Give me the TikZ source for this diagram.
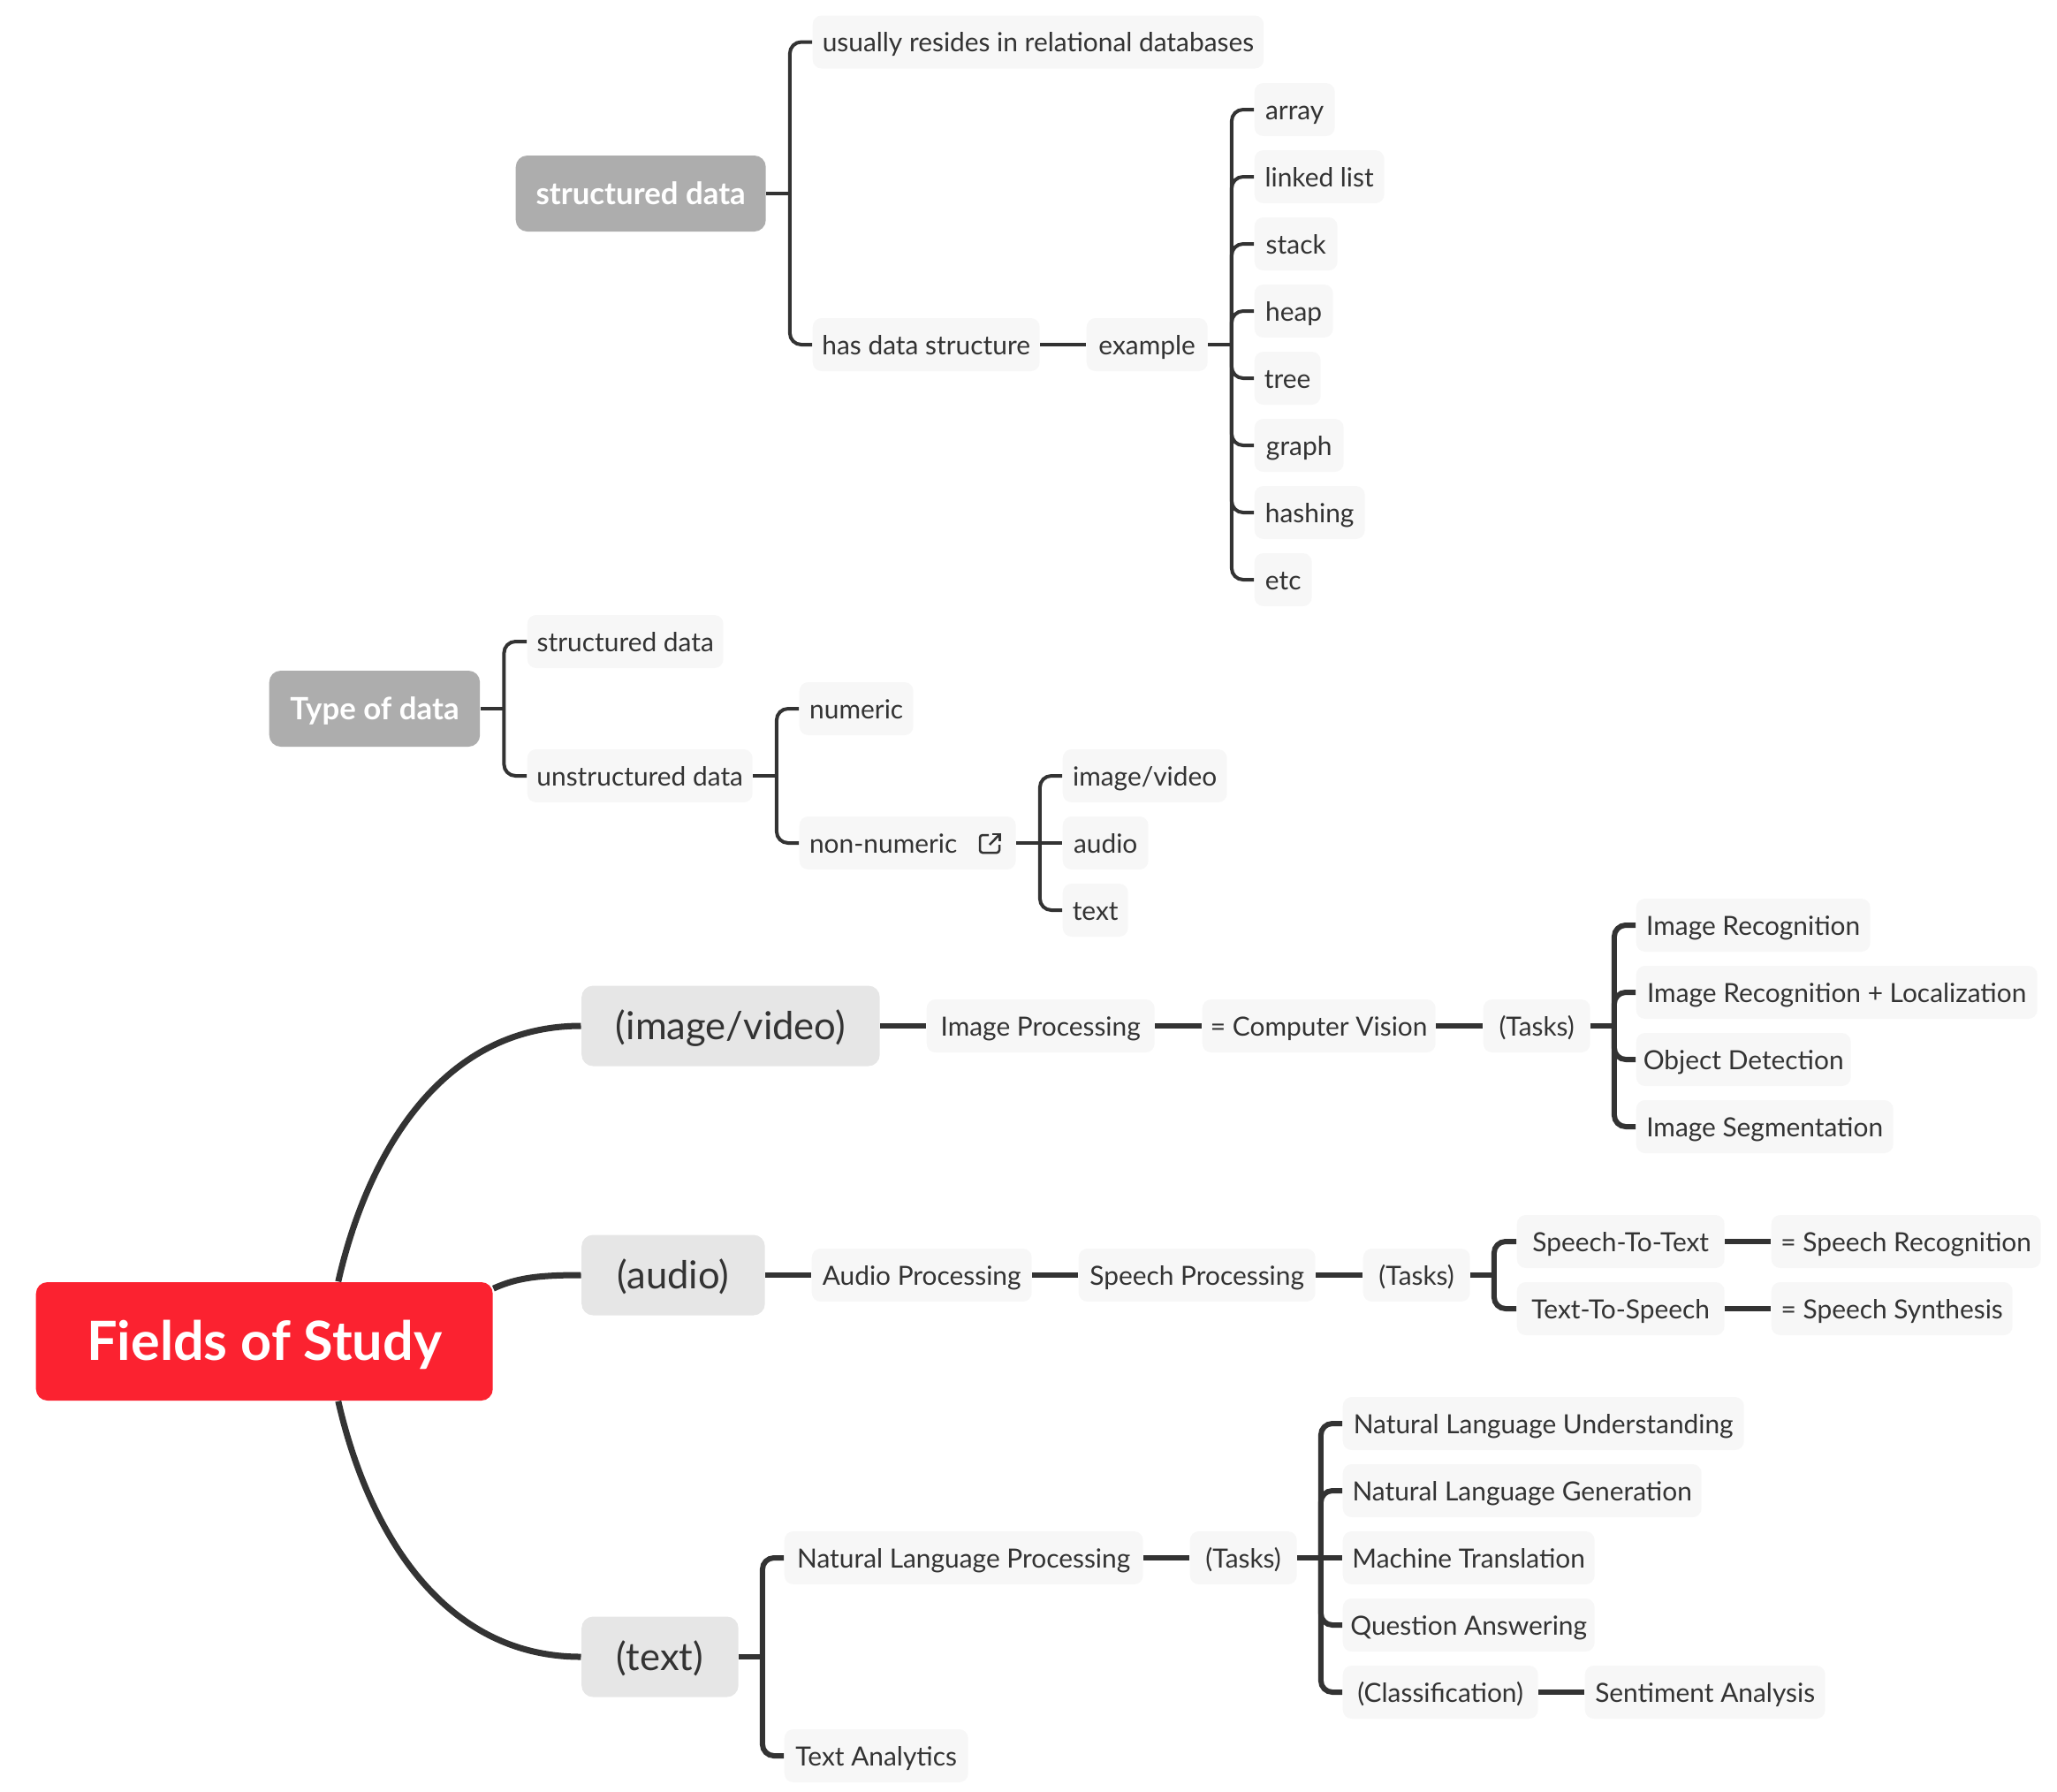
\documentclass[tikz,border=0pt]{standalone}
\usepackage{fontspec}
\setmainfont{Lato}
\usetikzlibrary{positioning}
\definecolor{inkc}{HTML}{333333}
\definecolor{leafc}{HTML}{F7F7F7}
\definecolor{topicc}{HTML}{E6E6E6}
\definecolor{headc}{HTML}{ADADAD}
\definecolor{rootc}{HTML}{FB2230}
\tikzset{
  leaf/.style={anchor=west,fill=leafc,text=inkc,rounded corners=0.1cm,inner sep=0pt,minimum height=0.6cm,text height=0.27cm,text depth=0.05cm,font=\fontsize{8.5}{10}\selectfont},
  topic/.style={anchor=west,fill=topicc,text=inkc,rounded corners=0.13cm,inner sep=0pt,minimum height=0.91cm,text height=0.36cm,text depth=0.06cm,font=\fontsize{12.4}{14}\selectfont},
  headnode/.style={anchor=west,fill=headc,text=white,rounded corners=0.13cm,inner sep=0pt,minimum height=0.86cm,text height=0.30cm,text depth=0.05cm,font=\fontsize{9.9}{12}\bfseries\selectfont},
  rootnode/.style={anchor=west,fill=rootc,text=white,rounded corners=0.13cm,inner sep=0pt,minimum height=1.34cm,text height=0.56cm,text depth=0.13cm,font=\fontsize{17.4}{20}\bfseries\selectfont},
  link/.style={draw=inkc,line width=0.04cm,rounded corners=0.13cm},
  linkb/.style={draw=inkc,line width=0.06cm,rounded corners=0.13cm},
  trunk/.style={draw=inkc,line width=0.07cm}
}
\begin{document}
\begin{tikzpicture}[y=-1cm]
\useasboundingbox (0,0) rectangle (23.28,20.28);

% structured data
\node[headnode,minimum width=2.83cm] (sdata) at (5.83,2.19) {structured data};
\node[leaf,minimum width=5.105cm] (usually) at (9.19,0.475) {usually resides in relational databases};
\node[leaf,minimum width=2.57cm] (hasds) at (9.19,3.90) {has data structure};
\node[leaf,minimum width=1.37cm] (example) at (12.29,3.90) {example};
\node[leaf,minimum width=0.91cm] (array) at (14.19,1.24) {array};
\node[leaf,minimum width=1.47cm] (linked) at (14.19,2.00) {linked list};
\node[leaf,minimum width=0.94cm] (stack) at (14.19,2.76) {stack};
\node[leaf,minimum width=0.89cm] (heap) at (14.19,3.52) {heap};
\node[leaf,minimum width=0.75cm] (tree) at (14.19,4.28) {tree};
\node[leaf,minimum width=1.01cm] (graph) at (14.19,5.04) {graph};
\node[leaf,minimum width=1.25cm] (hashing) at (14.19,5.80) {hashing};
\node[leaf,minimum width=0.65cm] (etc) at (14.19,6.56) {etc};
\draw[link] (sdata.east) -- ++(0.265,0) coordinate (sdatab);
\draw[link] (sdatab) |- (usually.west);
\draw[link] (sdatab) |- (hasds.west);
\draw[link] (hasds.east) -- (example.west);
\draw[link] (example.east) -- ++(0.265,0) coordinate (exampleb);
\draw[link] (exampleb) |- (array.west);
\draw[link] (exampleb) |- (linked.west);
\draw[link] (exampleb) |- (stack.west);
\draw[link] (exampleb) |- (heap.west);
\draw[link] (exampleb) |- (tree.west);
\draw[link] (exampleb) |- (graph.west);
\draw[link] (exampleb) |- (hashing.west);
\draw[link] (exampleb) |- (etc.west);

% type of data
\node[headnode,minimum width=2.385cm] (tdata) at (3.04,8.02) {Type of data};
\node[leaf,minimum width=2.22cm] (sleaf) at (5.96,7.26) {structured data};
\node[leaf,minimum width=2.55cm] (uleaf) at (5.96,8.78) {unstructured data};
\node[leaf,minimum width=1.29cm] (numeric) at (9.04,8.02) {numeric};
\node[leaf,minimum width=2.45cm] (nonnum) at (9.04,9.54) {non-numeric\hspace*{0.55cm}};
\node[leaf,minimum width=1.86cm] (imgleaf) at (12.02,8.78) {image/video};
\node[leaf,minimum width=0.97cm] (audleaf) at (12.02,9.54) {audio};
\node[leaf,minimum width=0.74cm] (txtleaf) at (12.02,10.30) {text};
\draw[inkc,line width=0.025cm,rounded corners=0.03cm] (11.19,9.45) -- (11.09,9.45) -- (11.09,9.65) -- (11.31,9.65) -- (11.31,9.56);
\draw[inkc,line width=0.025cm] (11.2,9.56) -- (11.315,9.44);
\draw[inkc,line width=0.025cm] (11.23,9.44) -- (11.315,9.44) -- (11.315,9.52);
\draw[link] (tdata.east) -- ++(0.265,0) coordinate (tdatab);
\draw[link] (tdatab) |- (sleaf.west);
\draw[link] (tdatab) |- (uleaf.west);
\draw[link] (uleaf.east) -- ++(0.265,0) coordinate (uleafb);
\draw[link] (uleafb) |- (numeric.west);
\draw[link] (uleafb) |- (nonnum.west);
\draw[link] (nonnum.east) -- ++(0.265,0) coordinate (nonnumb);
\draw[link] (nonnumb) |- (imgleaf.west);
\draw[link] (nonnumb) -- (audleaf.west);
\draw[link] (nonnumb) |- (txtleaf.west);

% fields of study
\node[rootnode,minimum width=5.17cm] (root) at (0.40,15.18) {Fields of Study};
\node[topic,minimum width=3.375cm] (imgv) at (6.575,11.61) {(image/video)};
\node[topic,minimum width=2.075cm] (audv) at (6.575,14.43) {(audio)};
\node[topic,minimum width=1.775cm] (txtv) at (6.575,18.75) {(text)};
\draw[trunk] (root.39) .. controls (4.16,13.05) and (5.00,11.61) .. (imgv.west);
\draw[trunk] (root.13.5) .. controls (5.85,14.46) and (6.10,14.43) .. (audv.west);
\draw[trunk] (root.-39) .. controls (4.16,17.31) and (5.00,18.75) .. (txtv.west);

\node[leaf,minimum width=2.58cm] (imgproc) at (10.48,11.61) {Image Processing};
\node[leaf,minimum width=2.64cm] (compvis) at (13.60,11.61) {= Computer Vision};
\node[leaf,minimum width=1.21cm] (tasksa) at (16.78,11.61) {(Tasks)};
\node[leaf,minimum width=2.65cm] (imrec) at (18.51,10.47) {Image Recognition};
\node[leaf,minimum width=4.54cm] (imloc) at (18.51,11.23) {Image Recognition + Localization};
\node[leaf,minimum width=2.43cm] (objdet) at (18.51,11.99) {Object Detection};
\node[leaf,minimum width=2.91cm] (imseg) at (18.51,12.75) {Image Segmentation};
\draw[linkb] (imgv.east) -- (imgproc.west);
\draw[linkb] (imgproc.east) -- (compvis.west);
\draw[linkb] (compvis.east) -- (tasksa.west);
\draw[linkb] (tasksa.east) -- ++(0.265,0) coordinate (tasksab);
\draw[linkb] (tasksab) |- (imrec.west);
\draw[linkb] (tasksab) |- (imloc.west);
\draw[linkb] (tasksab) |- (objdet.west);
\draw[linkb] (tasksab) |- (imseg.west);

\node[leaf,minimum width=2.49cm] (audproc) at (9.18,14.43) {Audio Processing};
\node[leaf,minimum width=2.68cm] (spproc) at (12.20,14.43) {Speech Processing};
\node[leaf,minimum width=1.21cm] (tasksb) at (15.42,14.43) {(Tasks)};
\node[leaf,minimum width=2.35cm] (stt) at (17.16,14.05) {Speech-To-Text};
\node[leaf,minimum width=2.35cm] (tts) at (17.16,14.81) {Text-To-Speech};
\node[leaf,minimum width=3.05cm] (sprec) at (20.04,14.05) {= Speech Recognition};
\node[leaf,minimum width=2.73cm] (spsyn) at (20.04,14.81) {= Speech Synthesis};
\draw[linkb] (audv.east) -- (audproc.west);
\draw[linkb] (audproc.east) -- (spproc.west);
\draw[linkb] (spproc.east) -- (tasksb.west);
\draw[linkb] (tasksb.east) -- ++(0.265,0) coordinate (tasksbb);
\draw[linkb] (tasksbb) |- (stt.west);
\draw[linkb] (tasksbb) |- (tts.west);
\draw[linkb] (stt.east) -- (sprec.west);
\draw[linkb] (tts.east) -- (spsyn.west);

\node[leaf,minimum width=4.06cm] (nlp) at (8.87,17.63) {Natural Language Processing};
\node[leaf,minimum width=2.08cm] (txtan) at (8.87,19.87) {Text Analytics};
\node[leaf,minimum width=1.21cm] (tasksc) at (13.46,17.63) {(Tasks)};
\node[leaf,minimum width=4.54cm] (nlu) at (15.19,16.11) {Natural Language Understanding};
\node[leaf,minimum width=4.06cm] (nlg) at (15.19,16.87) {Natural Language Generation};
\node[leaf,minimum width=2.85cm] (mtrans) at (15.19,17.63) {Machine Translation};
\node[leaf,minimum width=2.85cm] (qans) at (15.19,18.39) {Question Answering};
\node[leaf,minimum width=2.21cm] (clas) at (15.19,19.15) {(Classification)};
\node[leaf,minimum width=2.72cm] (senti) at (17.93,19.15) {Sentiment Analysis};
\draw[linkb] (txtv.east) -- ++(0.265,0) coordinate (txtvb);
\draw[linkb] (txtvb) |- (nlp.west);
\draw[linkb] (txtvb) |- (txtan.west);
\draw[linkb] (nlp.east) -- (tasksc.west);
\draw[linkb] (tasksc.east) -- ++(0.265,0) coordinate (taskscb);
\draw[linkb] (taskscb) |- (nlu.west);
\draw[linkb] (taskscb) |- (nlg.west);
\draw[linkb] (taskscb) -- (mtrans.west);
\draw[linkb] (taskscb) |- (qans.west);
\draw[linkb] (taskscb) |- (clas.west);
\draw[linkb] (clas.east) -- (senti.west);
\end{tikzpicture}
\end{document}
